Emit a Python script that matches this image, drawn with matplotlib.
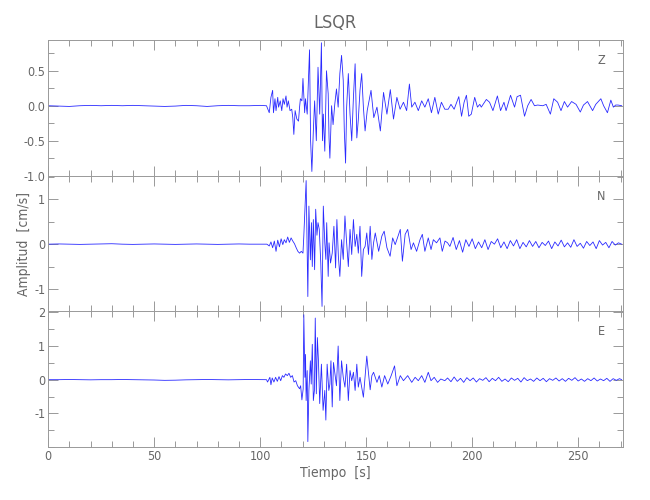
import matplotlib
matplotlib.use('Agg')
import matplotlib.pyplot as plt
from matplotlib.ticker import MultipleLocator

plt.rcParams['font.family'] = ['DejaVu Sans']
plt.rcParams['font.weight'] = 'light'
plt.rcParams['font.stretch'] = 'condensed'

# Sismograma LSQR, extremos (tiempo [s], amplitud [cm/s])
t_pre = [0, 5, 10, 15, 20, 25, 30, 35, 40, 45, 50, 55, 60, 65, 70, 75, 80, 85, 90, 95, 100, 103]
z_pre = [0.0, -0.005, -0.01, 0.0, 0.005, 0.0, 0.005, 0.0, 0.005, 0.0, -0.005, -0.01,
         -0.005, 0.005, 0.0, -0.01, 0.0, 0.005, 0.0, 0.0, 0.005, 0.0]
n_pre = [0.0, 0.005, 0.0, -0.005, 0.0, 0.005, 0.01, 0.0, -0.005, 0.0, 0.005, 0.0,
         -0.005, 0.0, 0.005, 0.0, -0.005, 0.0, 0.005, 0.0, 0.0, 0.0]
e_pre = [0.0, 0.0, 0.005, 0.0, -0.005, 0.0, 0.0, 0.005, 0.0, -0.005, -0.01, -0.02,
         -0.015, -0.005, 0.0, 0.005, 0.0, -0.005, 0.0, 0.005, 0.0, 0.0]

t_z = [104.3, 105.1, 105.9, 106.3, 107.0, 107.5, 108.3, 108.7, 109.5, 110.2, 110.8, 111.4,
       112.2, 112.7, 113.3, 114.1, 114.9, 115.4, 115.9, 116.5, 117.3, 118.1, 118.6, 119.0,
       119.7, 120.2, 121.0, 121.4, 122.2, 122.9, 123.3, 123.8, 124.4, 125.1, 125.7, 126.5,
       127.3, 128.1, 128.9, 129.4, 129.8, 130.5, 131.3, 132.1, 132.5, 132.9, 133.7, 134.4,
       135.2, 136.0, 136.8, 137.6, 138.4, 139.2, 139.7, 140.3, 140.8, 141.6, 142.4, 143.2,
       144.0, 144.8, 145.6, 146.3, 147.1, 147.9, 148.7, 149.5, 150.5, 152.3, 153.6, 155.1,
       156.7, 158.2, 159.8, 161.4, 162.9, 164.5, 166.0, 167.6, 169.1, 170.4, 171.5, 173.0,
       174.6, 176.2, 177.7, 179.3, 180.8, 182.4, 184.0, 185.5, 187.1, 188.7, 190.0, 191.5,
       193.7, 195.0, 196.2, 197.3, 198.4, 199.6, 201.2, 202.5, 203.6, 204.3, 206.7, 208.2,
       209.8, 211.9, 213.4, 215.0, 216.0, 218.1, 220.0, 221.2, 222.8, 224.7, 226.2, 227.8,
       229.4, 230.9, 233.3, 234.9, 236.9, 238.5, 240.3, 241.9, 243.5, 245.0, 246.9, 249.0,
       251.0, 252.5, 254.4, 256.8, 258.3, 260.7, 262.0, 263.8, 265.4, 266.6, 267.7, 268.8,
       270.5]
a_z = [-0.1, 0.12, 0.22, -0.1, 0.1, -0.07, 0.12, -0.02, 0.07, -0.07, 0.1, 0.02,
       0.14, -0.02, 0.07, -0.07, -0.05, -0.17, -0.41, -0.07, -0.19, -0.22, -0.02, 0.1,
       0.07, 0.39, -0.1, 0.1, -0.12, 0.46, 0.8, -0.5, -0.94, -0.36, 0.07, -0.5,
       0.55, -0.12, 0.9, -0.5, -0.12, -0.65, 0.5, 0.17, -0.46, -0.75, 0.0, -0.27,
       0.02, 0.24, -0.02, 0.46, 0.72, 0.36, -0.36, -0.82, -0.02, 0.46, -0.12, -0.5,
       0.12, 0.6, -0.46, -0.2, 0.22, 0.46, -0.02, -0.36, -0.07, 0.22, -0.17, -0.02,
       -0.36, 0.19, -0.12, 0.23, -0.19, 0.12, -0.05, 0.05, -0.07, 0.31, -0.02, 0.05,
       -0.07, 0.07, -0.02, 0.1, -0.1, 0.12, -0.12, 0.05, -0.05, -0.05, 0.02, -0.05,
       0.13, -0.15, 0.05, 0.15, -0.15, -0.12, 0.12, -0.02, 0.02, -0.02, 0.09, 0.05,
       -0.07, 0.14, -0.07, 0.05, -0.07, 0.15, -0.02, 0.13, 0.15, -0.15, 0.0, 0.09,
       0.0, 0.01, 0.0, 0.02, -0.12, 0.1, 0.05, -0.07, 0.06, -0.02, 0.06, 0.02,
       -0.09, 0.01, 0.06, -0.07, 0.02, 0.1, 0.0, -0.1, 0.08, -0.02, 0.01, 0.01,
       0.0]

t_n = [103.2, 104.3, 105.1, 105.9, 106.7, 107.5, 108.3, 109.1, 109.9, 110.7, 111.4, 112.2,
       113.0, 113.8, 114.6, 115.4, 116.2, 117.0, 117.8, 118.6, 119.4, 120.2, 120.6, 121.7,
       122.5, 123.0, 123.7, 124.2, 124.6, 125.1, 125.7, 126.2, 126.8, 127.3, 127.9, 128.6,
       129.2, 129.8, 130.5, 131.0, 131.4, 132.1, 132.5, 133.2, 134.0, 134.8, 135.6, 136.2,
       136.9, 137.6, 138.4, 139.2, 140.0, 140.8, 141.6, 142.4, 143.2, 144.0, 144.8, 145.6,
       146.3, 147.1, 147.9, 148.7, 149.5, 150.3, 151.1, 151.9, 152.7, 153.5, 154.3, 155.9,
       157.4, 158.5, 159.8, 161.3, 162.5, 163.7, 166.1, 167.1, 168.4, 169.6, 171.2, 172.3,
       173.8, 175.4, 176.5, 177.7, 179.3, 180.6, 181.7, 183.2, 184.8, 185.9, 187.2, 188.4,
       189.5, 191.0, 192.5, 194.0, 195.5, 197.0, 198.5, 200.0, 201.5, 203.0, 204.5, 206.0,
       207.5, 209.0, 210.5, 212.0, 213.5, 215.0, 216.5, 218.0, 219.5, 221.0, 222.5, 224.0,
       225.5, 227.0, 228.5, 230.0, 231.5, 233.0, 234.5, 236.0, 237.5, 239.0, 240.5, 242.0,
       243.5, 245.0, 246.5, 248.0, 249.5, 251.0, 252.5, 254.0, 255.5, 257.0, 258.5, 260.0,
       261.5, 263.0, 264.5, 266.0, 267.5, 269.0, 270.5]
a_n = [0.0, -0.04, 0.05, -0.08, 0.07, -0.16, 0.09, -0.06, 0.12, -0.01, 0.1, 0.03,
       0.16, 0.04, 0.14, 0.07, 0.01, -0.08, -0.16, -0.2, -0.16, -0.2, 0.18, 1.42,
       -1.17, 0.85, -0.35, 0.48, -0.5, 0.55, -0.57, 0.78, 0.2, 0.48, 0.33, -0.42,
       -1.39, 0.85, 0.03, -0.34, 0.48, -0.72, 0.03, -0.42, -0.2, 0.4, -0.53, 0.55,
       -0.27, -0.72, 0.1, -0.34, 0.63, 0.03, -0.5, 0.33, -0.23, 0.55, -0.05, 0.22,
       -0.2, 0.4, -0.72, -0.12, -0.05, 0.25, -0.23, 0.4, -0.34, 0.03, 0.25, -0.16,
       0.18, 0.29, -0.08, -0.27, 0.14, -0.01, 0.33, -0.38, 0.22, 0.33, -0.12, 0.03,
       -0.16, 0.1, 0.22, -0.16, 0.14, -0.12, 0.1, 0.03, 0.14, -0.16, 0.07, 0.03,
       -0.05, 0.15, -0.12, 0.08, -0.18, 0.1, -0.05, 0.12, -0.1, 0.05, -0.08, 0.1,
       -0.12, 0.06, 0.0, 0.12, -0.08, 0.05, -0.1, 0.08, -0.04, 0.1, -0.1, 0.04,
       -0.06, 0.08, -0.05, 0.06, -0.08, 0.04, -0.03, 0.07, -0.1, 0.05, -0.04, 0.09,
       -0.06, 0.03, -0.07, 0.1, -0.05, 0.02, -0.09, 0.06, -0.03, 0.05, -0.1, 0.08,
       -0.02, 0.04, -0.08, 0.06, -0.02, 0.03, 0.0]

t_e = [103.5, 104.6, 105.1, 105.7, 106.5, 107.3, 108.1, 108.9, 109.7, 110.5, 111.2, 112.0,
       112.8, 113.6, 114.4, 115.2, 116.0, 116.8, 117.6, 118.6, 119.1, 119.7, 120.3, 120.6,
       121.1, 121.4, 121.7, 122.2, 122.5, 123.0, 123.7, 124.1, 124.6, 125.1, 125.6, 126.0,
       126.5, 127.0, 127.5, 128.1, 128.9, 129.7, 130.5, 131.0, 131.6, 132.4, 132.9, 133.4,
       134.0, 134.6, 135.2, 136.0, 136.8, 137.6, 138.4, 139.2, 140.0, 140.8, 141.6, 142.4,
       143.2, 144.0, 144.8, 145.6, 146.3, 147.1, 148.7, 150.3, 151.1, 151.9, 152.7, 153.5,
       155.1, 156.2, 157.4, 158.7, 160.2, 161.8, 163.4, 164.5, 166.1, 167.6, 169.6, 171.5,
       173.1, 174.6, 176.2, 177.7, 179.3, 180.6, 182.1, 183.7, 185.2, 187.1, 188.4, 190.0,
       191.5, 193.0, 194.5, 196.0, 197.5, 199.0, 200.5, 202.0, 203.5, 205.0, 206.5, 208.0,
       209.5, 211.0, 212.5, 214.0, 215.5, 217.0, 218.5, 220.0, 221.5, 223.0, 224.5, 226.0,
       227.5, 229.0, 230.5, 232.0, 233.5, 235.0, 236.5, 238.0, 239.5, 241.0, 242.5, 244.0,
       245.5, 247.0, 248.5, 250.0, 251.5, 253.0, 254.5, 256.0, 257.5, 259.0, 260.5, 262.0,
       263.5, 265.0, 266.5, 268.0, 269.5, 270.5]
a_e = [-0.07, 0.07, -0.15, 0.05, -0.07, 0.07, -0.05, 0.09, -0.03, 0.12, 0.07, 0.17,
       0.12, 0.19, 0.07, 0.12, -0.07, -0.03, -0.18, -0.27, -0.18, -0.6, -0.27, 1.93,
       0.07, 0.75, -0.62, 0.27, -1.84, -0.32, 0.56, -0.13, 1.05, -0.62, -0.32, 1.83,
       -0.42, 1.25, 0.56, -0.71, 0.46, -0.91, -0.32, -1.2, 0.46, -0.32, -0.13, 0.56,
       -0.81, 0.51, 0.22, -0.18, 1.0, -0.62, 0.56, 0.07, -0.22, 0.46, -0.62, 0.27,
       -0.03, 0.22, -0.32, 0.46, -0.22, 0.07, -0.52, 0.7, 0.2, -0.3, 0.12, 0.22,
       -0.08, 0.12, -0.22, 0.12, -0.13, 0.12, 0.41, -0.18, 0.12, -0.03, 0.12, -0.08,
       0.07, -0.03, 0.12, -0.08, 0.22, -0.03, 0.07, -0.08, 0.02, -0.03, 0.05, -0.06,
       0.08, -0.05, 0.04, -0.08, 0.06, -0.03, 0.05, -0.07, 0.03, -0.02, 0.06, -0.06,
       0.04, -0.03, 0.07, -0.05, 0.02, -0.06, 0.05, -0.02, 0.04, -0.07, 0.06, -0.03,
       0.02, -0.05, 0.05, -0.03, 0.04, -0.06, 0.03, -0.02, 0.05, -0.04, 0.03, -0.05,
       0.04, -0.02, 0.06, -0.04, 0.02, -0.05, 0.03, -0.03, 0.05, -0.04, 0.02, -0.03,
       0.04, -0.05, 0.03, -0.02, 0.03, 0.0]

componentes = ['Z', 'N', 'E']
trazas = [(t_pre + t_z, z_pre + a_z), (t_pre + t_n, n_pre + a_n), (t_pre + t_e, e_pre + a_e)]
limites_y = [(-1.0, 0.94), (-1.5, 1.53), (-2.0, 2.03)]
ticks_y = [[-1.0, -0.5, 0.0, 0.5], [-1, 0, 1], [-1, 0, 1, 2]]
etiquetas_y = [['-1.0', '-0.5', '0.0', '0.5'], ['-1', '0', '1'], ['-1', '0', '1', '2']]
menores_y = [0.25, 0.5, 0.5]

gris = '#999999'
texto = '#666666'

fig, axes = plt.subplots(3, 1, figsize=(6.5, 5), dpi=100, sharex=True,
                         gridspec_kw={'hspace': 0})
fig.subplots_adjust(left=0.074, right=0.958, top=0.92, bottom=0.106)

for ax, comp, (t, a), lim, yt, yl, ym in zip(axes, componentes, trazas, limites_y,
                                             ticks_y, etiquetas_y, menores_y):
    ax.plot(t, a, color='#2a2aff', lw=0.6)
    ax.set_xlim(0, 271)
    ax.set_ylim(*lim)
    ax.set_yticks(yt)
    ax.set_yticklabels(yl)
    ax.yaxis.set_minor_locator(MultipleLocator(ym))
    ax.xaxis.set_major_locator(MultipleLocator(50))
    ax.xaxis.set_minor_locator(MultipleLocator(10))
    ax.tick_params(which='both', direction='in', top=True, right=True,
                   color=gris, labelcolor=texto, labelsize=9, pad=2)
    ax.tick_params(which='major', length=7, width=0.7)
    ax.tick_params(which='minor', length=4, width=0.7)
    for s in ax.spines.values():
        s.set_color(gris)
        s.set_linewidth(0.7)
    ax.text(0.97, 0.85, comp, transform=ax.transAxes, ha='right', va='center',
            color=texto, fontsize=9)

axes[1].set_ylabel('Amplitud  [cm/s]', color=texto, fontsize=10, labelpad=2)
axes[2].set_xlabel('Tiempo  [s]', color=texto, fontsize=10, labelpad=2)
axes[0].set_title('LSQR', color=texto, fontsize=13, pad=9)

fig.savefig('out.png', dpi=100)
